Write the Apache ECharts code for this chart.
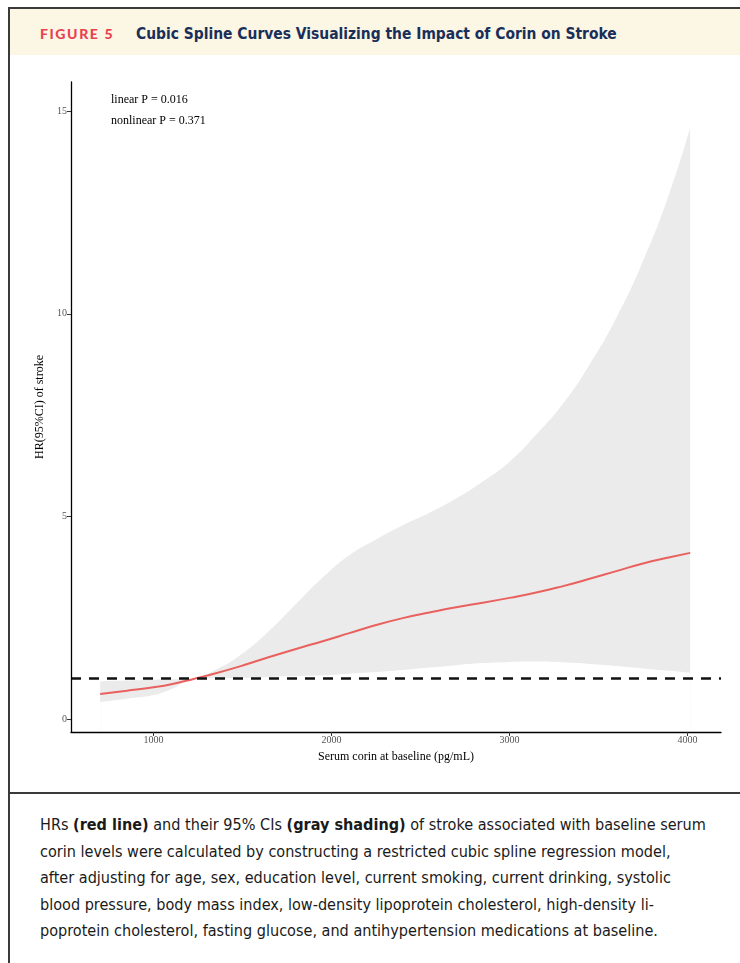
<!DOCTYPE html>
<html>
<head>
<meta charset="utf-8">
<script src="https://cdn.jsdelivr.net/npm/echarts@6/dist/echarts.min.js"></script>
<style>
  html, body { margin: 0; padding: 0; background: #fff; }
  body { width: 740px; height: 963px; overflow: hidden; position: relative; }
  .frame { position: absolute; left: 8px; top: 7px; width: 800px; height: 1000px;
           border-left: 2px solid #3a3a3a; border-top: 2px solid #3a3a3a; }
  .header { position: absolute; left: 10px; top: 9px; width: 760px; height: 46px; background: #FCF6E4; }
  .divider { position: absolute; left: 8px; top: 792px; width: 800px; height: 2px; background: #3a3a3a; }
  .fig { position: absolute; left: 40px; top: 25px; font-family: Lato, "Open Sans", sans-serif; font-weight: 900;
         font-size: 14px; line-height: 18px; letter-spacing: 1.6px; color: #E8414F; white-space: nowrap; }
  .title { position: absolute; left: 136px; top: 24px; font-family: "DejaVu Sans Condensed", "DejaVu Sans", sans-serif;
           font-weight: bold; font-size: 14px; line-height: 20px; color: #1A2E5A; white-space: nowrap; }
  .caption { position: absolute; left: 40px; top: 812px; font-family: "DejaVu Sans Condensed", "DejaVu Sans", sans-serif;
             font-size: 15px; line-height: 26.5px; color: #1a1a1a; }
  .caption div { white-space: nowrap; }
  #chart { position: absolute; left: 0; top: 56px; width: 740px; height: 736px; }
</style>
</head>
<body>
<div class="frame"></div>
<div class="header"></div>
<div class="divider"></div>
<div class="fig">FIGURE 5</div>
<div class="title" id="title">Cubic Spline Curves Visualizing the Impact of Corin on Stroke</div>
<div class="caption" id="caption">
  <div><span id="cap1">HRs <b>(red line)</b> and their 95% CIs <b>(gray shading)</b> of stroke associated with baseline serum</span></div>
  <div>corin levels were calculated by constructing a restricted cubic spline regression model,</div>
  <div>after adjusting for age, sex, education level, current smoking, current drinking, systolic</div>
  <div>blood pressure, body mass index, low-density lipoprotein cholesterol, high-density li-</div>
  <div>poprotein cholesterol, fasting glucose, and antihypertension medications at baseline.</div>
</div>
<div id="chart"></div>
<script>
// ---- data ----
const corin = [700, 850, 1000, 1100, 1225, 1350, 1500, 1650, 1800, 1950, 2100, 2250, 2400, 2550, 2700, 2850, 3000, 3150, 3300, 3450, 3600, 3750, 3900, 4015];
const hr    = [0.62, 0.70, 0.785, 0.86, 0.99, 1.13, 1.32, 1.53, 1.73, 1.92, 2.12, 2.32, 2.49, 2.63, 2.76, 2.87, 2.99, 3.12, 3.28, 3.46, 3.65, 3.84, 3.99, 4.10];
const upper = [0.93, 0.95, 0.97, 0.98, 1.00, 1.22, 1.62, 2.18, 2.84, 3.49, 4.04, 4.43, 4.78, 5.09, 5.44, 5.86, 6.35, 7.02, 7.78, 8.75, 9.90, 11.3, 13.0, 14.6];
const lower = [0.42, 0.50, 0.59, 0.74, 0.99, 1.01, 1.02, 1.04, 1.06, 1.08, 1.12, 1.16, 1.21, 1.27, 1.33, 1.38, 1.41, 1.42, 1.40, 1.36, 1.31, 1.25, 1.19, 1.14];
const refHR = 1;
const xTicks = [1000, 2000, 3000, 4000];
const yTicks = [0, 5, 10, 15];
const annotations = ['linear P = 0.016', 'nonlinear P = 0.371'];

function fit(el, target) {
  const fs = parseFloat(getComputedStyle(el).fontSize);
  const w = el.getBoundingClientRect().width;
  return fs * target / w;
}
const cap = document.getElementById('caption');
cap.style.fontSize = fit(document.getElementById('cap1'), 666) + 'px';
const ttl = document.getElementById('title');
ttl.style.fontSize = fit(ttl, 481) + 'px';

const serif = '"Liberation Serif", "Times New Roman", serif';
const chart = echarts.init(document.getElementById('chart'), null, { renderer: 'canvas' });
const pairs = (ys) => corin.map((x, i) => [x, ys[i]]);
const smoothCfg = { smooth: 0.5 };
chart.setOption({
  animation: false,
  grid: { left: 71, right: 19, top: 26, bottom: 60 },
  xAxis: {
    type: 'value', min: 536, max: 4188, z: 10,
    name: 'Serum corin at baseline (pg/mL)', nameLocation: 'middle', nameGap: 19,
    nameTextStyle: { fontFamily: serif, fontSize: 12, color: '#000' },
    axisLine: { show: true, onZero: false, lineStyle: { color: '#000', width: 1.3 } },
    axisTick: { show: true, length: 4, customValues: xTicks, lineStyle: { color: '#333', width: 1 } },
    axisLabel: { customValues: xTicks, margin: 3, fontFamily: serif, fontSize: 10, color: '#555',
                 formatter: (v) => String(v) },
    splitLine: { show: false }
  },
  yAxis: {
    type: 'value', min: -0.32, max: 15.72, z: 10,
    name: 'HR(95%CI) of stroke', nameLocation: 'middle', nameGap: 21,
    nameTextStyle: { fontFamily: serif, fontSize: 12, color: '#000' },
    axisLine: { show: true, onZero: false, lineStyle: { color: '#000', width: 1.3 } },
    axisTick: { show: true, length: 4, customValues: yTicks, lineStyle: { color: '#333', width: 1 } },
    axisLabel: { customValues: yTicks, margin: 4, fontFamily: serif, fontSize: 10, color: '#555',
                 formatter: (v) => String(v) },
    splitLine: { show: false }
  },
  graphic: [
    { type: 'text', left: 111, top: 38, style: { text: annotations[0], font: '12px ' + serif, fill: '#000' } },
    { type: 'text', left: 111, top: 59, style: { text: annotations[1], font: '12px ' + serif, fill: '#000' } }
  ],
  series: [
    Object.assign({ type: 'line', name: 'upper', data: pairs(upper), symbol: 'none',
      lineStyle: { width: 0, opacity: 0 }, areaStyle: { color: '#EBEBEB', opacity: 1, origin: 'start' },
      silent: true, z: 1 }, smoothCfg),
    Object.assign({ type: 'line', name: 'lower', data: pairs(lower), symbol: 'none',
      lineStyle: { width: 0, opacity: 0 }, areaStyle: { color: '#FFFFFF', opacity: 1, origin: 'start' },
      silent: true, z: 2 }, smoothCfg),
    Object.assign({ type: 'line', name: 'HR', data: pairs(hr), symbol: 'none',
      lineStyle: { color: '#E8615E', width: 2 }, z: 3 }, smoothCfg),
    { type: 'line', name: 'ref', data: [], z: 4,
      markLine: { silent: true, symbol: 'none', label: { show: false },
        lineStyle: { color: '#111', type: [10, 8], width: 2.6 },
        data: [{ yAxis: refHR }] } }
  ]
});
</script>
</body>
</html>
